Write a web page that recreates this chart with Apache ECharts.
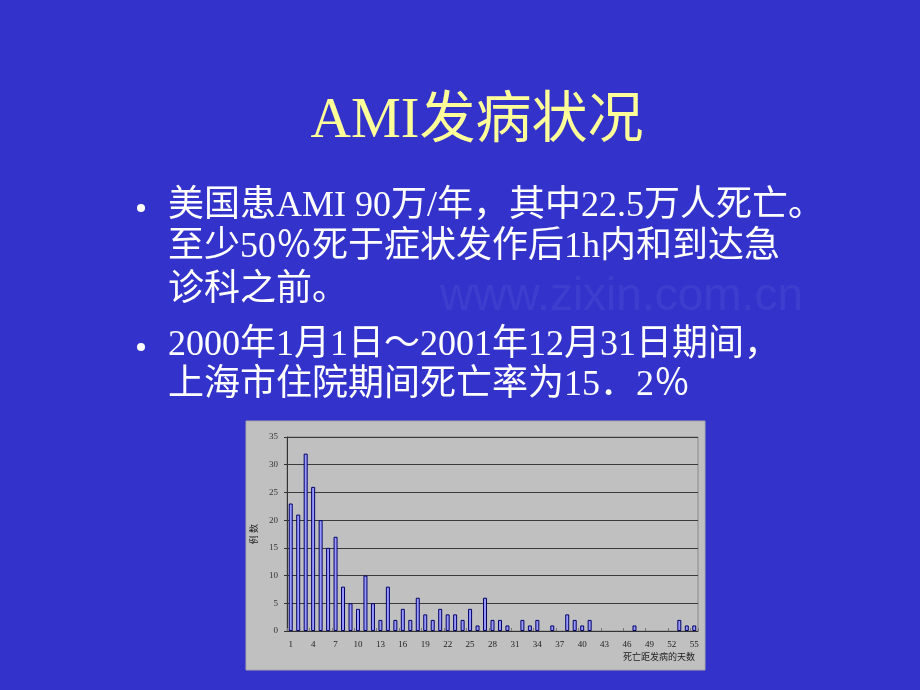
<!DOCTYPE html>
<html lang="zh">
<head>
    <meta charset="utf-8">
    <style>
        html, body { margin: 0; padding: 0; background: #3333CC; }
        #chart { width: 920px; height: 690px; }
    </style>
</head>
<body>
<div id="chart"></div>
<script type="text/javascript" src="https://cdn.jsdelivr.net/npm/echarts/dist/echarts.min.js"></script>
<script type="text/javascript">

    // 死亡距发病的天数
    var days = ['1', '2', '3', '4', '5', '6', '7', '8', '9', '10',
        '11', '12', '13', '14', '15', '16', '17', '18', '19', '20',
        '21', '22', '23', '24', '25', '26', '27', '28', '29', '30',
        '31', '32', '33', '34', '35', '36', '37', '38', '39', '40',
        '41', '42', '43', '44', '45', '46', '47', '48', '49', '50',
        '51', '52', '53', '54', '55'];

    // 例数
    var cases = [23, 21, 32, 26, 20, 15, 17, 8, 5, 4,
        10, 5, 2, 8, 2, 4, 2, 6, 3, 2,
        4, 3, 3, 2, 4, 1, 6, 2, 2, 1,
        0, 2, 1, 2, 0, 1, 0, 3, 2, 1,
        2, 0, 0, 0, 0, 0, 1, 0, 0, 0,
        0, 0, 2, 1, 1];

    var titleText = 'AMI发病状况';
    var bulletLines = [
        '美国患AMI 90万/年，其中22.5万人死亡。',
        '至少50％死于症状发作后1h内和到达急',
        '诊科之前。',
        '2000年1月1日～2001年12月31日期间，',
        '上海市住院期间死亡率为15．2％'
    ];
    var bulletDots = [0, 3]; // lines that start a bullet

    var serifFont = "'Liberation Serif', 'Noto Sans CJK SC', serif";
    var lineY = [207, 248, 291, 346, 386];

    var graphics = [];

    // 灰色图片背景
    graphics.push({
        type: 'rect', z: -10,
        shape: { x: 246, y: 421, width: 459, height: 249 },
        style: { fill: '#C0C0C0', stroke: '#A8A8A8', lineWidth: 1 }
    });

    graphics.push({
        type: 'text', x: 477, y: 122,
        style: {
            text: titleText, fill: '#FFFF99', font: '56px ' + serifFont,
            textAlign: 'center', textVerticalAlign: 'middle'
        }
    });

    for (var i = 0; i < bulletLines.length; i++) {
        graphics.push({
            type: 'text', x: 168, y: lineY[i],
            style: {
                text: bulletLines[i], fill: '#FFFFFF',
                font: '36px ' + serifFont, textVerticalAlign: 'middle'
            }
        });
        if (bulletDots.indexOf(i) >= 0) {
            graphics.push({
                type: 'circle',
                shape: { cx: 141, cy: lineY[i] + 1, r: 4 },
                style: { fill: '#FFFFFF' }
            });
        }
    }

    // 水印
    graphics.push({
        type: 'text', x: 440, y: 297, z: -20,
        style: {
            text: 'www.zixin.com.cn', fill: 'rgba(255,255,255,0.05)',
            font: '46px sans-serif', textVerticalAlign: 'middle'
        }
    });

    graphics.push({
        type: 'text', x: 695, y: 658,
        style: {
            text: '死亡距发病的天数', fill: '#222',
            font: '9px ' + serifFont, textAlign: 'right', textVerticalAlign: 'middle'
        }
    });

    var barData = cases.map(function (v) {
        return v === 0 ? { value: v, itemStyle: { borderWidth: 0 } } : v;
    });

    var option = {
        backgroundColor: '#3333CC',
        animation: false,
        graphic: graphics,
        grid: {
            left: 287, top: 437, width: 411, height: 194,
            show: true, borderColor: '#8A8A8A', borderWidth: 1,
            backgroundColor: 'transparent'
        },
        xAxis: {
            type: 'category',
            data: days,
            axisLine: { lineStyle: { color: '#333', width: 1 } },
            axisTick: { show: true, inside: true, interval: 2, length: 3, lineStyle: { color: '#777' } },
            axisLabel: { interval: 2, color: '#222', fontSize: 9, fontFamily: serifFont, margin: 9 }
        },
        yAxis: {
            type: 'value',
            min: 0, max: 35, interval: 5,
            name: '例 数',
            nameLocation: 'middle',
            nameRotate: 90,
            nameGap: 28,
            nameTextStyle: { color: '#222', fontSize: 9, fontFamily: serifFont },
            axisLine: { show: true, lineStyle: { color: '#333', width: 1 } },
            axisTick: { show: true, length: 3, lineStyle: { color: '#333' } },
            axisLabel: { color: '#333', fontSize: 9, fontFamily: serifFont, margin: 9 },
            splitLine: { lineStyle: { color: '#3A3A3A', width: 1 } }
        },
        series: [{
            type: 'bar',
            data: barData,
            barWidth: 4,
            itemStyle: { color: '#9999FF', borderColor: '#000066', borderWidth: 1 }
        }]
    };

    var myChart = echarts.init(document.getElementById('chart'));
    myChart.setOption(option);

</script>
</body>
</html>
